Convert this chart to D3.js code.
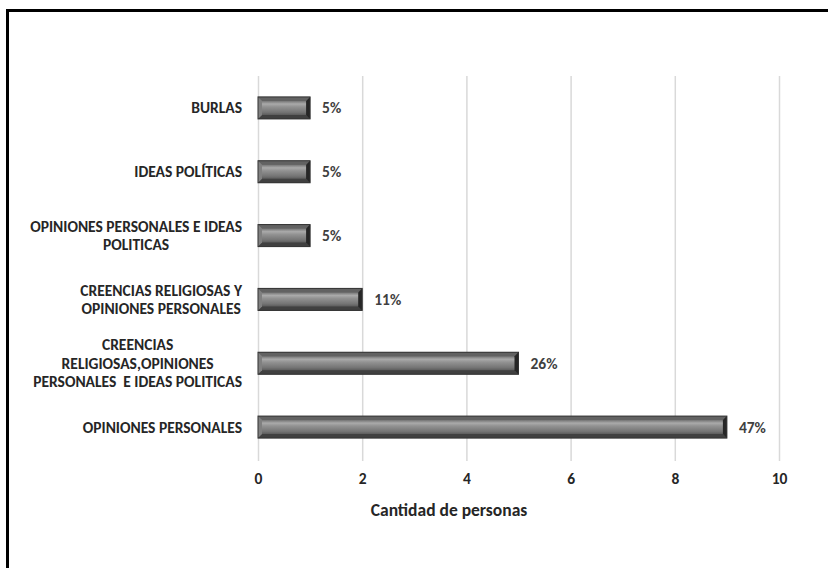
<!DOCTYPE html>
<html>
<head>
<meta charset="utf-8">
<script src="https://cdn.jsdelivr.net/npm/d3@7"></script>
<style>
  html, body { margin: 0; padding: 0; background: #fff; }
  svg { display: block; }
  text { font-family: Carlito, Lato, sans-serif; font-weight: bold; white-space: pre; }
</style>
</head>
<body>
<svg id="chart" width="828" height="568"></svg>
<script>
const categories = [
  "BURLAS",
  "IDEAS POLÍTICAS",
  "OPINIONES PERSONALES E IDEAS\nPOLITICAS",
  "CREENCIAS RELIGIOSAS Y\nOPINIONES PERSONALES",
  "CREENCIAS\nRELIGIOSAS,OPINIONES\nPERSONALES  E IDEAS POLITICAS",
  "OPINIONES PERSONALES"
];
const values = [1, 1, 1, 2, 5, 9];
const percentLabels = ["5%", "5%", "5%", "11%", "26%", "47%"];
const xTicks = [0, 2, 4, 6, 8, 10];
const xTitle = "Cantidad de personas";

const FONT = "Carlito, Lato, sans-serif";
const svg = d3.select("#chart");

// outer frame
svg.append("rect")
  .attr("x", 7.5).attr("y", 10.5)
  .attr("width", 840).attr("height", 580)
  .attr("fill", "none").attr("stroke", "#000").attr("stroke-width", 3);

const x = d3.scaleLinear().domain([0, 10]).range([258, 779]);
const y = d3.scaleBand().domain(categories).range([76, 459])
  .paddingInner(0.655).paddingOuter(0.3275);

// gradients
const defs = svg.append("defs");
const g1 = defs.append("linearGradient").attr("id", "barV")
  .attr("x1", 0).attr("y1", 0).attr("x2", 0).attr("y2", 1);
[[0, "#4a4a4a"], [0.18, "#747474"], [0.32, "#aaaaaa"], [0.45, "#929292"],
 [0.7, "#747474"], [0.85, "#555555"], [1, "#3a3a3a"]].forEach(([o, c]) =>
  g1.append("stop").attr("offset", o).attr("stop-color", c));

// x axis with gridlines
const axisG = svg.append("g")
  .attr("transform", `translate(0,461)`)
  .call(d3.axisBottom(x).tickValues(xTicks).tickSize(-385).tickPadding(12).tickFormat(d3.format("d")));
axisG.select(".domain").remove();
axisG.selectAll(".tick line").attr("stroke", "#d9d9d9").attr("stroke-width", 1.5);
axisG.selectAll(".tick text").attr("fill", "#262626").attr("font-size", 15.5)
  .style("font-family", FONT).style("font-weight", "bold");

// bars
const bev = 4;
const bars = svg.append("g").selectAll("g.bar").data(categories).join("g").attr("class", "bar");
bars.each(function(c, i) {
  const gg = d3.select(this);
  const x0 = x(0), x1 = x(values[i]), y0 = y(c), h = y.bandwidth(), y1 = y0 + h;
  gg.append("rect").attr("x", x0).attr("y", y0).attr("width", x1 - x0).attr("height", h)
    .attr("fill", "url(#barV)");
  gg.append("polygon").attr("points", [[x0, y0], [x1, y0], [x1 - bev, y0 + bev], [x0 + bev, y0 + bev]].join(" "))
    .attr("fill", "#626262");
  gg.append("polygon").attr("points", [[x0, y1], [x1, y1], [x1 - bev, y1 - bev], [x0 + bev, y1 - bev]].join(" "))
    .attr("fill", "#404040");
  gg.append("polygon").attr("points", [[x0, y0], [x0 + bev, y0 + bev], [x0 + bev, y1 - bev], [x0, y1]].join(" "))
    .attr("fill", "#808080");
  gg.append("polygon").attr("points", [[x1, y0], [x1 - bev, y0 + bev], [x1 - bev, y1 - bev], [x1, y1]].join(" "))
    .attr("fill", "#262626");
  gg.append("rect").attr("x", x0).attr("y", y0).attr("width", x1 - x0).attr("height", h)
    .attr("fill", "none").attr("stroke", "#333").attr("stroke-width", 1);
});

// value labels
svg.append("g").selectAll("text").data(categories).join("text")
  .attr("x", (c, i) => x(values[i]) + 12)
  .attr("y", c => y(c) + y.bandwidth() / 2)
  .attr("dy", "0.35em")
  .attr("font-size", 15.5)
  .attr("fill", "#404040")
  .text((c, i) => percentLabels[i]);

// category labels (multi-line, centred block, right-aligned at 242)
const lineH = 18.5;
const labG = svg.append("g");
categories.forEach((c) => {
  const lines = c.split("\n");
  const t = labG.append("text").attr("font-size", 15.5).attr("fill", "#262626")
    .attr("text-anchor", "middle");
  lines.forEach((ln, k) => {
    t.append("tspan").attr("x", 0)
      .attr("y", y(c) + y.bandwidth() / 2 + (k - (lines.length - 1) / 2) * lineH)
      .attr("dy", "0.35em").text(ln);
  });
  let maxW = 0;
  t.selectAll("tspan").each(function() { maxW = Math.max(maxW, this.getComputedTextLength()); });
  t.selectAll("tspan").attr("x", 242 - maxW / 2);
});

// x axis title
svg.append("text").attr("x", 449).attr("y", 510).attr("dy", "0.35em")
  .attr("text-anchor", "middle").attr("font-size", 17.5).attr("fill", "#262626")
  .text(xTitle);
</script>
</body>
</html>
